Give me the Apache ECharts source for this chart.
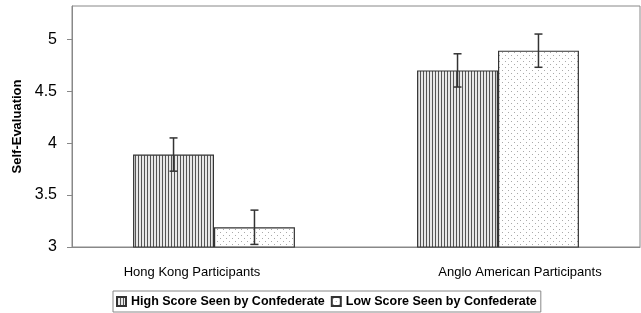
<!DOCTYPE html>
<html>
<head>
<meta charset="utf-8">
<script src="https://cdn.jsdelivr.net/npm/echarts@6/dist/echarts.min.js"></script>
<style>
  html, body { margin: 0; padding: 0; background: #fff; }
  #chart { width: 641px; height: 313px; }
</style>
</head>
<body>
<div id="chart"></div>
<script>
var categories = ['Hong Kong Participants', 'Anglo American Participants'];
var seriesNames = ['High Score Seen by Confederate', 'Low Score Seen by Confederate'];
var highScore = [3.89, 4.70];
var lowScore = [3.19, 4.89];
var highErr = [0.16, 0.16];
var lowErr = [0.165, 0.16];
var yTicks = [3, 3.5, 4, 4.5, 5];

var gapRatio = 0.43;
// category labels sit a little off the bar-pair centre in the original
var labelShift = [-22, 22];

// fill patterns
function makePattern(w, h, bg, draw) {
  var c = document.createElement('canvas');
  c.width = w; c.height = h;
  var ctx = c.getContext('2d');
  ctx.fillStyle = bg;
  ctx.fillRect(0, 0, w, h);
  draw(ctx);
  return c;
}
var stripes = makePattern(3, 4, '#e8e8e8', function (ctx) {
  ctx.fillStyle = '#555';
  ctx.fillRect(0, 0, 1, 4);
});
var dots = makePattern(6, 6, '#fff', function (ctx) {
  ctx.fillStyle = '#aaa';
  ctx.fillRect(1, 1, 1, 1);
  ctx.fillRect(4, 4, 1, 1);
});

var chart = echarts.init(document.getElementById('chart'));

function errorSeries(idx, values, errs) {
  var data = values.map(function (v, i) { return [i, v - errs[i], v + errs[i]]; });
  return {
    type: 'custom',
    name: seriesNames[idx] + ' err',
    z: 10,
    silent: true,
    renderItem: function (params, api) {
      var i = api.value(0);
      var lo = api.coord([i, api.value(1)]);
      var hi = api.coord([i, api.value(2)]);
      var band = api.size([1, 0])[0];
      var barW = band * (1 - gapRatio) / 2;
      var x = lo[0] + (idx === 0 ? -1 : 1) * barW / 2;
      var cap = 4;
      var style = { stroke: '#333', lineWidth: 1.5 };
      return {
        type: 'group',
        children: [
          { type: 'line', shape: { x1: x, y1: lo[1], x2: x, y2: hi[1] }, style: style },
          { type: 'line', shape: { x1: x - cap, y1: lo[1], x2: x + cap, y2: lo[1] }, style: style },
          { type: 'line', shape: { x1: x - cap, y1: hi[1], x2: x + cap, y2: hi[1] }, style: style }
        ]
      };
    },
    data: data
  };
}

var catData = categories.map(function (c, i) {
  var s = labelShift[i];
  return {
    value: c,
    textStyle: { padding: s < 0 ? [0, -2 * s, 0, 0] : [0, 0, 0, 2 * s] }
  };
});

var option = {
  animation: false,
  textStyle: { fontFamily: 'Liberation Sans, Arial, sans-serif' },
  grid: {
    left: 72, right: 1, top: 6, bottom: 66,
    show: true, borderColor: '#888', borderWidth: 1
  },
  legend: {
    data: seriesNames,
    left: 113,
    top: 291,
    icon: 'rect',
    itemWidth: 9,
    itemHeight: 9,
    itemGap: 6,
    padding: [4, 4, 4, 3],
    borderColor: '#888',
    borderWidth: 1,
    borderRadius: 0,
    textStyle: { fontSize: 12.5, fontWeight: 'bold', color: '#000' }
  },
  xAxis: {
    type: 'category',
    data: catData,
    axisLine: { lineStyle: { color: '#888' } },
    axisTick: { show: false },
    axisLabel: { color: '#000', fontSize: 13, margin: 19 }
  },
  yAxis: {
    type: 'value',
    min: 3,
    max: 5.32,
    interval: 0.5,
    name: 'Self-Evaluation',
    nameLocation: 'middle',
    nameGap: 43,
    nameTextStyle: { fontSize: 13, fontWeight: 'bold', color: '#000' },
    axisLine: { show: true, lineStyle: { color: '#888' } },
    axisTick: { show: true, length: 5, lineStyle: { color: '#888' }, customValues: yTicks },
    splitLine: { show: false },
    axisLabel: {
      color: '#000', fontSize: 16, margin: 15,
      customValues: yTicks,
      formatter: function (v) { return String(v); }
    }
  },
  series: [
    {
      name: seriesNames[0],
      type: 'bar',
      data: highScore,
      barGap: '0%',
      barCategoryGap: (gapRatio * 100) + '%',
      itemStyle: { color: { image: stripes, repeat: 'repeat' }, borderColor: '#333', borderWidth: 1.2 }
    },
    {
      name: seriesNames[1],
      type: 'bar',
      data: lowScore,
      barGap: '0%',
      barCategoryGap: (gapRatio * 100) + '%',
      itemStyle: { color: { image: dots, repeat: 'repeat' }, borderColor: '#333', borderWidth: 1.2 }
    },
    errorSeries(0, highScore, highErr),
    errorSeries(1, lowScore, lowErr)
  ]
};
chart.setOption(option);
</script>
</body>
</html>
